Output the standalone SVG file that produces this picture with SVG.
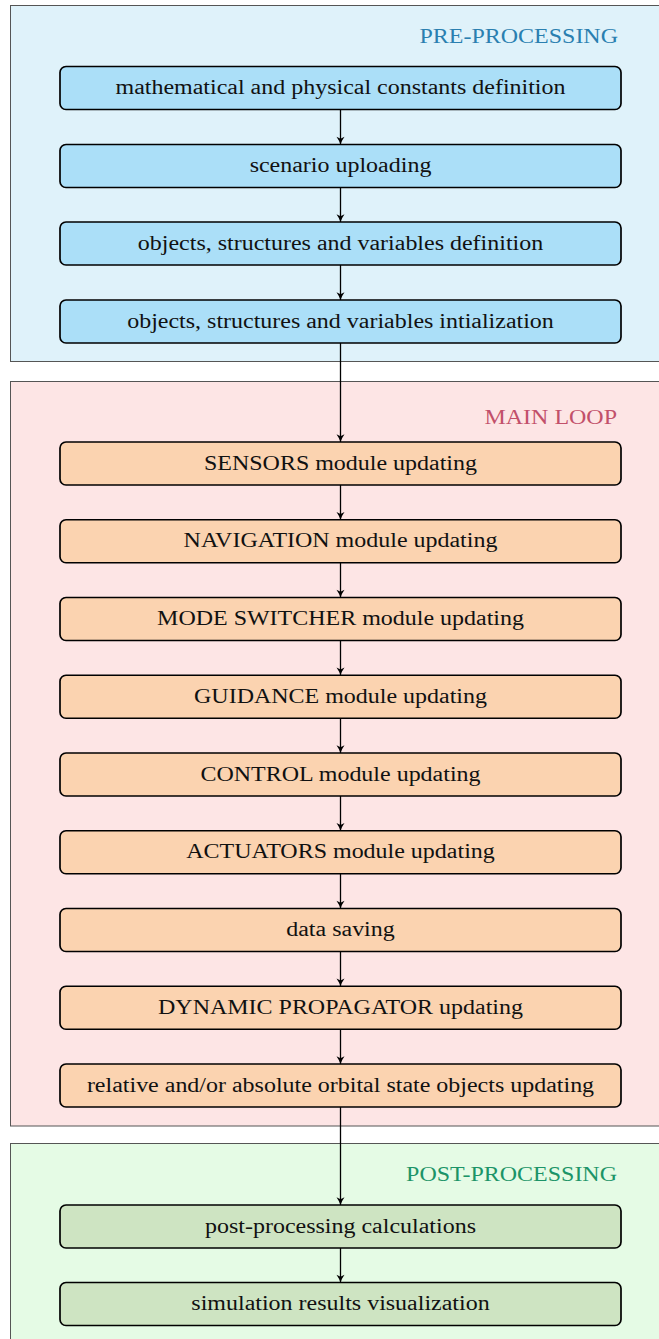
<svg xmlns="http://www.w3.org/2000/svg" width="659" height="1339" viewBox="0 0 659 1339">
  <style>
    .panel { stroke: #555; stroke-width: 1; }
    .node rect { stroke: #000; stroke-width: 1.7; }
    .pre rect { fill: #abdff8; }
    .main rect { fill: #fbd3b0; }
    .post rect { fill: #cee4c2; }
    text { font-family: "Liberation Serif", "Times New Roman", serif; font-size: 20.5px; }
    .node text { fill: #111; text-anchor: middle; }
    .title { text-anchor: end; }
    .link { stroke: #000; stroke-width: 1.3; fill: none; marker-end: url(#tip); }
  </style>
  <defs>
    <marker id="tip" markerUnits="userSpaceOnUse" markerWidth="10" markerHeight="10" viewBox="-8 -4 9 8" refX="0" refY="0" orient="auto">
      <path d="M-7,-3.6 Q-3,-0.8 0,0 Q-3,0.8 -7,3.6 L-5.2,0 Z" fill="#000"/>
    </marker>
  </defs>

  <!-- stage panels -->
  <g id="panel-pre">
    <rect class="panel" x="10.5" y="5.5" width="660" height="356" fill="#dff2fa"/>
    <text class="title" transform="translate(618,43) scale(1.17,1)" fill="#2a7fb0">PRE-PROCESSING</text>
  </g>
  <g id="panel-main">
    <rect class="panel" x="10.5" y="381.5" width="660" height="744.5" fill="#fde5e5"/>
    <text class="title" transform="translate(617,424) scale(1.17,1)" fill="#c2506a">MAIN LOOP</text>
  </g>
  <g id="panel-post">
    <rect class="panel" x="10.5" y="1143.5" width="660" height="210" fill="#e5fbe5"/>
    <text class="title" transform="translate(617,1181) scale(1.17,1)" fill="#1c9468">POST-PROCESSING</text>
  </g>

  <!-- connectors -->
  <g id="connectors">
    <line class="link" x1="340.5" y1="109.5" x2="340.5" y2="144.5"/>
    <line class="link" x1="340.5" y1="187.5" x2="340.5" y2="222"/>
    <line class="link" x1="340.5" y1="265" x2="340.5" y2="300"/>
    <line class="link" x1="340.5" y1="343" x2="340.5" y2="442"/>
    <line class="link" x1="340.5" y1="485" x2="340.5" y2="519.75"/>
    <line class="link" x1="340.5" y1="562.75" x2="340.5" y2="597.5"/>
    <line class="link" x1="340.5" y1="640.5" x2="340.5" y2="675.25"/>
    <line class="link" x1="340.5" y1="718.25" x2="340.5" y2="753"/>
    <line class="link" x1="340.5" y1="796" x2="340.5" y2="830.75"/>
    <line class="link" x1="340.5" y1="873.75" x2="340.5" y2="908.5"/>
    <line class="link" x1="340.5" y1="951.5" x2="340.5" y2="986.25"/>
    <line class="link" x1="340.5" y1="1029.25" x2="340.5" y2="1064"/>
    <line class="link" x1="340.5" y1="1107" x2="340.5" y2="1205"/>
    <line class="link" x1="340.5" y1="1248" x2="340.5" y2="1282.5"/>
  </g>

  <!-- pre-processing steps -->
  <g id="n-constants" class="node pre">
    <rect x="60" y="66.5" width="561" height="43" rx="6"/>
    <text transform="translate(340.5,94) scale(1.17,1)">mathematical and physical constants definition</text>
  </g>
  <g id="n-scenario" class="node pre">
    <rect x="60" y="144.5" width="561" height="43" rx="6"/>
    <text transform="translate(340.5,172) scale(1.17,1)">scenario uploading</text>
  </g>
  <g id="n-definition" class="node pre">
    <rect x="60" y="222" width="561" height="43" rx="6"/>
    <text transform="translate(340.5,249.5) scale(1.17,1)">objects, structures and variables definition</text>
  </g>
  <g id="n-init" class="node pre">
    <rect x="60" y="300" width="561" height="43" rx="6"/>
    <text transform="translate(340.5,327.5) scale(1.17,1)">objects, structures and variables intialization</text>
  </g>

  <!-- main loop steps -->
  <g id="n-sensors" class="node main">
    <rect x="60" y="442" width="561" height="43" rx="6"/>
    <text transform="translate(340.5,469.5) scale(1.17,1)">SENSORS module updating</text>
  </g>
  <g id="n-navigation" class="node main">
    <rect x="60" y="519.75" width="561" height="43" rx="6"/>
    <text transform="translate(340.5,547.25) scale(1.17,1)">NAVIGATION module updating</text>
  </g>
  <g id="n-modeswitcher" class="node main">
    <rect x="60" y="597.5" width="561" height="43" rx="6"/>
    <text transform="translate(340.5,625) scale(1.17,1)">MODE SWITCHER module updating</text>
  </g>
  <g id="n-guidance" class="node main">
    <rect x="60" y="675.25" width="561" height="43" rx="6"/>
    <text transform="translate(340.5,702.75) scale(1.17,1)">GUIDANCE module updating</text>
  </g>
  <g id="n-control" class="node main">
    <rect x="60" y="753" width="561" height="43" rx="6"/>
    <text transform="translate(340.5,780.5) scale(1.17,1)">CONTROL module updating</text>
  </g>
  <g id="n-actuators" class="node main">
    <rect x="60" y="830.75" width="561" height="43" rx="6"/>
    <text transform="translate(340.5,858.25) scale(1.17,1)">ACTUATORS module updating</text>
  </g>
  <g id="n-saving" class="node main">
    <rect x="60" y="908.5" width="561" height="43" rx="6"/>
    <text transform="translate(340.5,936) scale(1.17,1)">data saving</text>
  </g>
  <g id="n-propagator" class="node main">
    <rect x="60" y="986.25" width="561" height="43" rx="6"/>
    <text transform="translate(340.5,1013.75) scale(1.17,1)">DYNAMIC PROPAGATOR updating</text>
  </g>
  <g id="n-orbital" class="node main">
    <rect x="60" y="1064" width="561" height="43" rx="6"/>
    <text transform="translate(340.5,1091.5) scale(1.17,1)">relative and/or absolute orbital state objects updating</text>
  </g>

  <!-- post-processing steps -->
  <g id="n-calculations" class="node post">
    <rect x="60" y="1205" width="561" height="43" rx="6"/>
    <text transform="translate(340.5,1232.5) scale(1.17,1)">post-processing calculations</text>
  </g>
  <g id="n-visualization" class="node post">
    <rect x="60" y="1282.5" width="561" height="43" rx="6"/>
    <text transform="translate(340.5,1310) scale(1.17,1)">simulation results visualization</text>
  </g>
</svg>
